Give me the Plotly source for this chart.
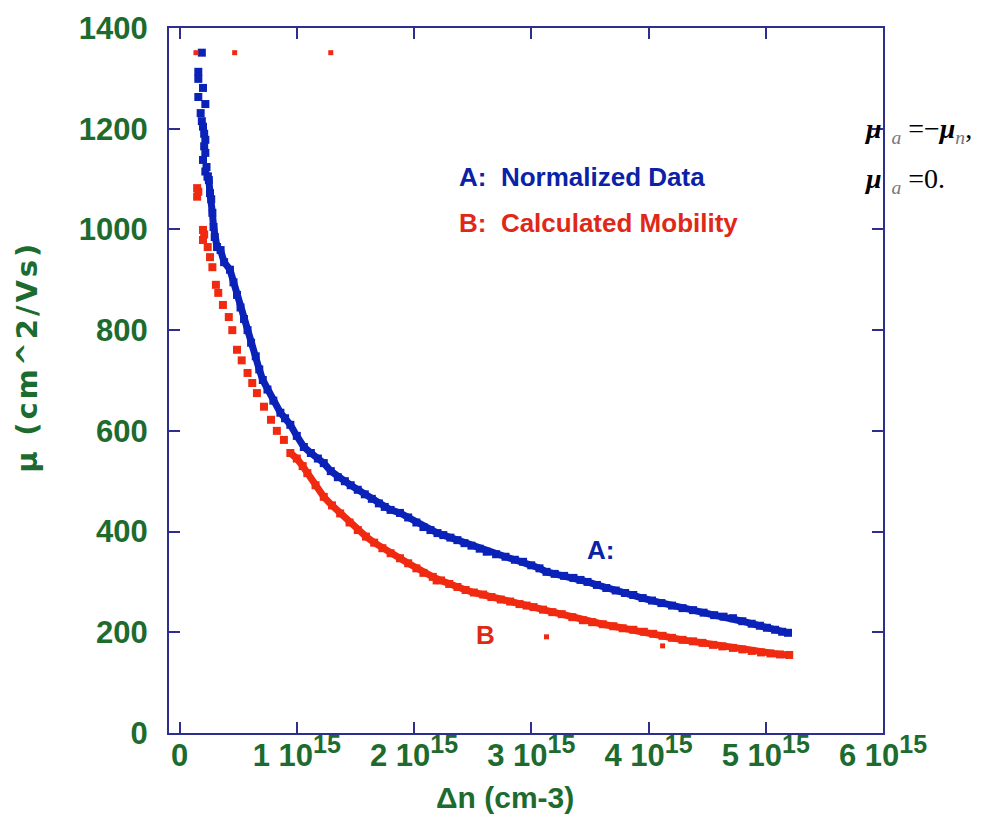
import plotly.graph_objects as go

# x values in units of 1e15 cm-3, y values in cm^2/Vs
a_top_x = [0.19, 0.16, 0.16, 0.20, 0.16, 0.22, 0.18, 0.19, 0.20, 0.21, 0.22, 0.21, 0.22, 0.20,
           0.23, 0.22, 0.24]
a_top_y = [1351, 1313, 1299, 1281, 1263, 1249, 1231, 1215, 1204, 1190, 1178, 1165, 1152, 1138,
           1124, 1115, 1105]

a_x = [0.24, 0.25, 0.26, 0.27, 0.28, 0.29, 0.30, 0.32, 0.35, 0.38, 0.43, 0.46, 0.49,
       0.52, 0.55, 0.58, 0.61, 0.65, 0.68, 0.71, 0.75, 0.80, 0.86, 0.90, 0.945, 1.00, 1.06,
       1.12, 1.18, 1.23, 1.29, 1.35, 1.41, 1.46, 1.52, 1.58, 1.64, 1.70, 1.75, 1.80, 1.88,
       1.95, 2.02, 2.08, 2.14, 2.20, 2.25, 2.31, 2.37, 2.43, 2.49, 2.56, 2.62, 2.70, 2.78,
       2.86, 2.93, 3.00, 3.07, 3.13, 3.20, 3.28, 3.36, 3.42, 3.48, 3.56, 3.64, 3.72, 3.80,
       3.87, 3.95, 4.03, 4.11, 4.20, 4.29, 4.38, 4.47, 4.56, 4.64, 4.72, 4.80, 4.88, 4.95,
       5.01, 5.08, 5.14, 5.19]
a_y = [1105, 1098, 1072, 1060, 1033, 1005, 985, 965, 959, 935, 920, 895, 870,
       845, 822, 800, 775, 748, 722, 701, 682, 660, 636, 625, 612, 590, 568,
       556, 545, 536, 520, 508, 500, 492, 483, 474, 465, 456, 449, 443, 437,
       428, 418, 409, 403, 397, 393, 388, 383, 377, 372, 366, 360, 355, 350,
       344, 340, 333, 327, 320, 316, 312, 308, 304, 300, 294, 288, 283, 278,
       274, 268, 263, 258, 253, 248, 244, 239, 234, 231, 228, 222, 217, 213,
       209, 205, 201, 199]

b_top_x = [0.15, 0.16, 0.15, 0.20, 0.21, 0.20, 0.24, 0.26, 0.28, 0.31, 0.33, 0.37, 0.42, 0.45,
           0.49, 0.53, 0.58, 0.62, 0.66, 0.72, 0.78, 0.83, 0.89]
b_top_y = [1082, 1075, 1065, 999, 990, 979, 965, 945, 925, 890, 874, 850, 826, 800,
           761, 740, 715, 695, 675, 648, 622, 600, 582]

b_x = [0.945, 1.00, 1.05, 1.09, 1.16, 1.23, 1.30, 1.37, 1.45, 1.52, 1.59, 1.66, 1.73, 1.80,
       1.88, 1.95, 2.02, 2.08, 2.16, 2.23, 2.30, 2.37, 2.44, 2.51, 2.59, 2.66, 2.74, 2.82,
       2.90, 2.96, 3.02, 3.10, 3.18, 3.26, 3.35, 3.44, 3.52, 3.61, 3.70, 3.78, 3.87, 3.96,
       4.04, 4.12, 4.20, 4.29, 4.38, 4.46, 4.55, 4.63, 4.72, 4.80, 4.88, 4.96, 5.04, 5.12,
       5.20]
b_y = [556, 545, 530, 516, 492, 469, 452, 436, 418, 403, 390, 378, 367, 357,
       347, 337, 327, 318, 310, 303, 296, 290, 284, 279, 275, 270, 265, 261,
       256, 253, 250, 245, 240, 236, 230, 224, 220, 216, 212, 208, 205, 201,
       197, 193, 189, 185, 182, 179, 175, 172, 169, 166, 163, 160, 158, 156,
       155]

b_out_x = [0.14, 0.47, 1.29, 2.18, 3.13, 4.12]
b_out_y = [1351, 1351, 1351, 300, 191, 173]

x_ticks = [0, 1, 2, 3, 4, 5, 6]
SUP = "<sup><span style='font-size:25px'>15</span></sup>"
x_ticktext = ["0"] + [f"{k} 10{SUP}" for k in ["1", "2", "3", "4", "5", "6"]]
y_ticks = [0, 200, 400, 600, 800, 1000, 1200, 1400]

BLUE = "#0a22b8"
RED = "#f02a10"
GREEN = "#1d6b2e"
NAVY = "#2e2e8e"

fig = go.Figure()
fig.add_trace(go.Scatter(x=a_top_x, y=a_top_y, mode="markers",
                         marker=dict(symbol="square", size=8, color=BLUE),
                         showlegend=False))
fig.add_trace(go.Scatter(x=a_x, y=a_y, mode="lines+markers",
                         line=dict(color=BLUE, width=7),
                         marker=dict(symbol="square", size=8, color=BLUE),
                         showlegend=False))
fig.add_trace(go.Scatter(x=b_top_x, y=b_top_y, mode="markers",
                         marker=dict(symbol="square", size=8, color=RED),
                         showlegend=False))
fig.add_trace(go.Scatter(x=b_x, y=b_y, mode="lines+markers",
                         line=dict(color=RED, width=7),
                         marker=dict(symbol="square", size=8, color=RED),
                         showlegend=False))
fig.add_trace(go.Scatter(x=b_out_x, y=b_out_y, mode="markers",
                         marker=dict(symbol="square", size=5, color=RED),
                         showlegend=False))

tickfont = dict(family="Liberation Sans, Arial", size=31, color=GREEN, weight="bold")
axis_common = dict(showline=True, linecolor=NAVY, linewidth=2, mirror="ticks",
                   ticks="inside", ticklen=11, tickwidth=2, tickcolor=NAVY,
                   showgrid=False, zeroline=False, tickfont=tickfont, automargin=False)

fig.update_xaxes(range=[-0.09, 6.0], tickvals=x_ticks, ticktext=x_ticktext,
                 ticklabelstandoff=-6, **axis_common)
fig.update_yaxes(range=[0, 1400], tickvals=y_ticks, ticklabelstandoff=13, **axis_common)

lab = dict(family="Liberation Sans, Arial", size=26, weight="bold")
math = dict(family="Liberation Serif, Times New Roman", size=28, color="black")
HS = "\u200a"
NB = "\u00a0"
ytitle = HS.join(list("μ (cm^2/Vs)"))
# The page body has an 8px default margin, so the figure is sized to fit the window.
fig.update_layout(
    width=980, height=809,
    margin=dict(l=161, r=105, t=20, b=84, autoexpand=False),
    paper_bgcolor="white", plot_bgcolor="white",
    annotations=[
        dict(x=2.37, y=1104, xref="x", yref="y", text="A:  Normalized Data", showarrow=False,
             xanchor="left", yanchor="middle", font=dict(color="#0a22a8", **lab)),
        dict(x=2.37, y=1013, xref="x", yref="y", text="B:  Calculated Mobility", showarrow=False,
             xanchor="left", yanchor="middle", font=dict(color="#e02818", **lab)),
        dict(x=3.59, y=363, xref="x", yref="y", text="A:", showarrow=False,
             xanchor="center", yanchor="middle", font=dict(color="#0a22a8", **lab)),
        dict(x=2.61, y=195, xref="x", yref="y", text="B", showarrow=False,
             xanchor="center", yanchor="middle", font=dict(color="#e02818", **lab)),
        dict(x=0.47, y=-0.091, xref="paper", yref="paper", text="Δn (cm-3)", showarrow=False,
             xanchor="center", yanchor="middle", borderpad=0,
             font=dict(family="Liberation Sans, Arial", size=30, color=GREEN, weight="bold")),
        dict(x=-0.199, y=0.532, xref="paper", yref="paper", text=ytitle, showarrow=False,
             textangle=-90, xanchor="center", yanchor="middle",
             font=dict(family="DejaVu Sans", size=29, color=GREEN, weight="bold")),
        dict(x=0.9705, y=0.854, xref="paper", yref="paper",
             text=f"<b><i>μ</i></b><sub><span style='color:#777'><i>{NB}{NB}a</i></span></sub>{NB}=−<b><i>μ</i></b><sub><span style='color:#777'><i>n</i></span></sub>,",
             showarrow=False, xanchor="left", yanchor="middle", font=math),
        dict(x=0.9705, y=0.783, xref="paper", yref="paper",
             text=f"<b><i>μ</i></b><sub><span style='color:#777'><i>{NB}{NB}a</i></span></sub>{NB}=0.",
             showarrow=False, xanchor="left", yanchor="middle", font=math),
    ],
)

fig.write_html("out.html")
